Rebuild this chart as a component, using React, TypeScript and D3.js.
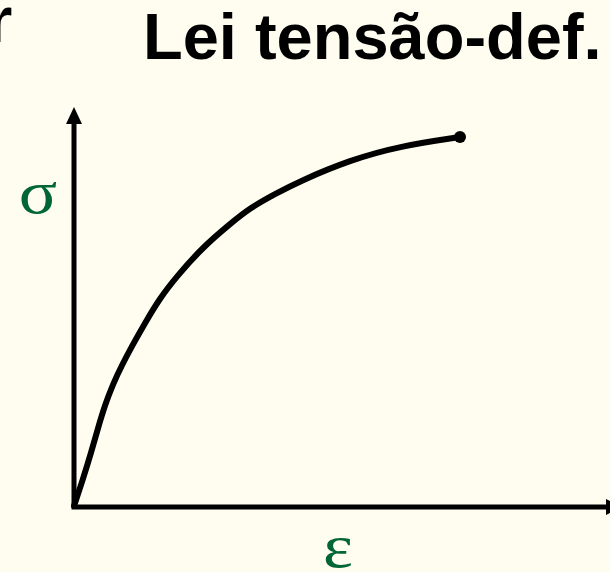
import React from "react";
import * as d3 from "d3";

const strain = [0, 1.68, 3.17, 4.47, 5.77, 7.26, 8.94, 10.8, 13.22, 16.01, 19.18, 24.02, 29.05, 32.77, 37.43, 42.09, 51.4, 60.71, 71.88];
const stress = [0.25, 7.02, 13.53, 19.8, 25.56, 30.83, 35.59, 40.35, 46.12, 52.38, 57.89, 65.16, 70.93, 74.94, 78.45, 81.7, 86.97, 90.48, 92.73];

const titleText = "Lei tensão-def.";
const yLabel = "σ";
const xLabel = "ε";

const W = 610;
const H = 572;

export default function App() {
  const x = d3.scaleLinear().domain([0, 100]).range([74, 611]);
  const y = d3.scaleLinear().domain([0, 100]).range([507, 108]);
  const pts: [number, number][] = strain.map((s, i) => [x(s), y(stress[i])]);
  const line = d3.line().curve(d3.curveBasis)(pts) || "";
  const last = pts[pts.length - 1];
  const green = "#006633";
  const x0 = x(0), y0 = y(0);
  return (
    <svg width={W} height={H} style={{ position: "absolute", left: 0, top: 0, background: "#FFFDF0" }}>
      <rect x={0} y={0} width={W} height={H} fill="#FFFDF0" />
      <text x={-13} y={42} fontFamily="'Liberation Sans', Arial, sans-serif" fontWeight="bold" fontSize={65}>r</text>
      <text x={143} y={59} fontFamily="'Liberation Sans', Arial, sans-serif" fontWeight="bold" fontSize={65}
        fill="#000">{titleText}</text>
      {/* axes */}
      <line x1={x0} y1={y0} x2={x0} y2={120} stroke="#000" strokeWidth={5} />
      <path d={`M${x0},107 L${x0 - 8},124 L${x0 + 8},124 Z`} fill="#000" />
      <line x1={x0 - 2.5} y1={y0} x2={608} y2={y0} stroke="#000" strokeWidth={5} />
      <path d={`M623,${y0} L606,${y0 - 8} L606,${y0 + 8} Z`} fill="#000" />
      {/* curve */}
      <path d={line} fill="none" stroke="#000" strokeWidth={6} strokeLinecap="round" strokeLinejoin="round" />
      <circle cx={last[0]} cy={last[1]} r={6} fill="#000" />
      <text transform="translate(38,213) scale(1.15,1)" textAnchor="middle" fontFamily="'Liberation Serif', 'Times New Roman', serif" fontSize={62} fill={green}>{yLabel}</text>
      <text transform="translate(338,567) scale(1.15,1)" textAnchor="middle" fontFamily="'Liberation Serif', 'Times New Roman', serif" fontSize={62} fill={green}>{xLabel}</text>
    </svg>
  );
}
